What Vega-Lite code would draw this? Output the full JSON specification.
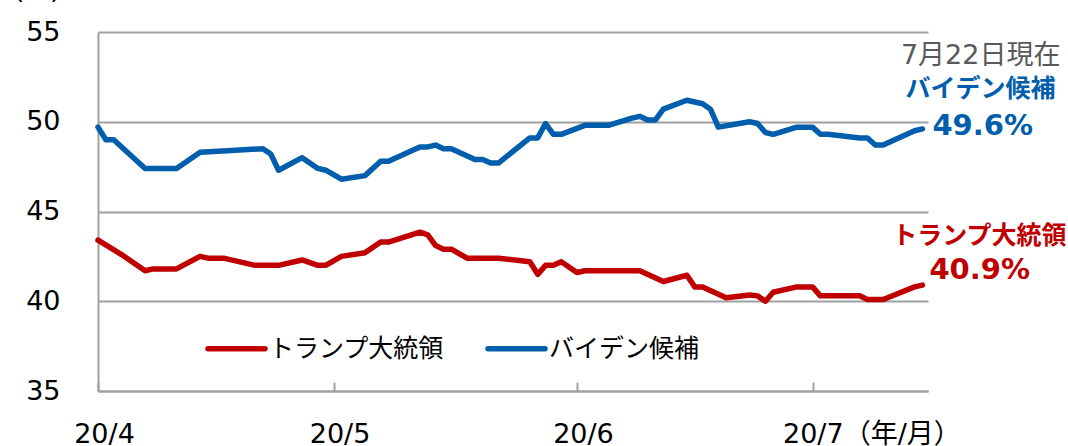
{
  "$schema": "https://vega.github.io/schema/vega-lite/v6.json",
  "width": 830,
  "height": 359,
  "autosize": {"type": "none"},
  "padding": {"left": 98, "top": 32, "right": 140, "bottom": 55},
  "background": "white",
  "config": {
    "font": "'DejaVu Sans', 'Noto Sans CJK JP'",
    "view": {"stroke": null}
  },
  "encoding": {
    "x": {
      "field": "date",
      "type": "temporal",
      "scale": {
        "type": "utc",
        "domain": [
          {"year": 2020, "month": 4, "date": 1, "utc": true},
          {"year": 2020, "month": 7, "date": 15, "hours": 17, "utc": true}
        ]
      },
      "axis": {
        "title": null,
        "values": [
          {"year": 2020, "month": 4, "date": 1, "utc": true},
          {"year": 2020, "month": 5, "date": 1, "utc": true},
          {"year": 2020, "month": 6, "date": 1, "utc": true},
          {"year": 2020, "month": 7, "date": 1, "utc": true}
        ],
        "labelExpr": "'20/' + (utcmonth(datum.value) + 1) + (utcmonth(datum.value) == 6 ? '（年/月）' : '')",
        "grid": false,
        "domainColor": "#A0A0A0",
        "domainWidth": 2,
        "tickColor": "#A0A0A0",
        "tickWidth": 2,
        "tickSize": -9,
        "labelPadding": 39,
        "labelBaseline": "top",
        "labelFlush": false,
        "labelBound": false,
        "labelOverlap": false,
        "labelAlign": {"condition": {"test": "utcmonth(datum.value) == 6", "value": "left"}, "value": "center"},
        "labelOffset": {"condition": {"test": "utcmonth(datum.value) == 6", "value": -30}, "value": 6},
        "labelFontSize": 27,
        "labelColor": "#000000"
      }
    },
    "y": {
      "field": "value",
      "type": "quantitative",
      "scale": {"domain": [35, 55], "nice": false, "zero": false},
      "axis": {
        "values": [35, 40, 45, 50, 55],
        "grid": true,
        "gridColor": "#A0A0A0",
        "gridWidth": 2,
        "domainColor": "#A0A0A0",
        "domainWidth": 2,
        "ticks": false,
        "labelPadding": 38,
        "labelFontSize": 27,
        "labelColor": "#000000",
        "title": "(%)",
        "titleAngle": 0,
        "titleAlign": "right",
        "titleX": -38,
        "titleY": -35,
        "titleBaseline": "alphabetic",
        "titleFontSize": 27,
        "titleFontWeight": "normal",
        "titleColor": "#000000"
      }
    }
  },
  "layer": [
    {
      "data": {
        "values": [
          {"date": "2020-04-01", "series": "バイデン候補", "value": 49.7},
          {"date": "2020-04-02", "series": "バイデン候補", "value": 49.0},
          {"date": "2020-04-03", "series": "バイデン候補", "value": 49.0},
          {"date": "2020-04-07", "series": "バイデン候補", "value": 47.4},
          {"date": "2020-04-11", "series": "バイデン候補", "value": 47.4},
          {"date": "2020-04-14", "series": "バイデン候補", "value": 48.3},
          {"date": "2020-04-18", "series": "バイデン候補", "value": 48.4},
          {"date": "2020-04-22", "series": "バイデン候補", "value": 48.5},
          {"date": "2020-04-23", "series": "バイデン候補", "value": 48.2},
          {"date": "2020-04-24", "series": "バイデン候補", "value": 47.3},
          {"date": "2020-04-27", "series": "バイデン候補", "value": 48.0},
          {"date": "2020-04-29", "series": "バイデン候補", "value": 47.4},
          {"date": "2020-04-30", "series": "バイデン候補", "value": 47.3},
          {"date": "2020-05-02", "series": "バイデン候補", "value": 46.8},
          {"date": "2020-05-05", "series": "バイデン候補", "value": 47.0},
          {"date": "2020-05-07", "series": "バイデン候補", "value": 47.8},
          {"date": "2020-05-08", "series": "バイデン候補", "value": 47.8},
          {"date": "2020-05-12", "series": "バイデン候補", "value": 48.6},
          {"date": "2020-05-13", "series": "バイデン候補", "value": 48.6},
          {"date": "2020-05-14", "series": "バイデン候補", "value": 48.7},
          {"date": "2020-05-15", "series": "バイデン候補", "value": 48.5},
          {"date": "2020-05-16", "series": "バイデン候補", "value": 48.5},
          {"date": "2020-05-19", "series": "バイデン候補", "value": 47.9},
          {"date": "2020-05-20", "series": "バイデン候補", "value": 47.9},
          {"date": "2020-05-21", "series": "バイデン候補", "value": 47.7},
          {"date": "2020-05-22", "series": "バイデン候補", "value": 47.7},
          {"date": "2020-05-26", "series": "バイデン候補", "value": 49.1},
          {"date": "2020-05-27", "series": "バイデン候補", "value": 49.1},
          {"date": "2020-05-28", "series": "バイデン候補", "value": 49.9},
          {"date": "2020-05-29", "series": "バイデン候補", "value": 49.3},
          {"date": "2020-05-30", "series": "バイデン候補", "value": 49.3},
          {"date": "2020-06-02", "series": "バイデン候補", "value": 49.8},
          {"date": "2020-06-05", "series": "バイデン候補", "value": 49.8},
          {"date": "2020-06-08", "series": "バイデン候補", "value": 50.2},
          {"date": "2020-06-09", "series": "バイデン候補", "value": 50.3},
          {"date": "2020-06-10", "series": "バイデン候補", "value": 50.1},
          {"date": "2020-06-11", "series": "バイデン候補", "value": 50.1},
          {"date": "2020-06-12", "series": "バイデン候補", "value": 50.7},
          {"date": "2020-06-15", "series": "バイデン候補", "value": 51.2},
          {"date": "2020-06-17", "series": "バイデン候補", "value": 51.0},
          {"date": "2020-06-18", "series": "バイデン候補", "value": 50.7},
          {"date": "2020-06-19", "series": "バイデン候補", "value": 49.7},
          {"date": "2020-06-23", "series": "バイデン候補", "value": 50.0},
          {"date": "2020-06-24", "series": "バイデン候補", "value": 49.9},
          {"date": "2020-06-25", "series": "バイデン候補", "value": 49.4},
          {"date": "2020-06-26", "series": "バイデン候補", "value": 49.3},
          {"date": "2020-06-29", "series": "バイデン候補", "value": 49.7},
          {"date": "2020-07-01", "series": "バイデン候補", "value": 49.7},
          {"date": "2020-07-02", "series": "バイデン候補", "value": 49.3},
          {"date": "2020-07-03", "series": "バイデン候補", "value": 49.3},
          {"date": "2020-07-07", "series": "バイデン候補", "value": 49.1},
          {"date": "2020-07-08", "series": "バイデン候補", "value": 49.1},
          {"date": "2020-07-09", "series": "バイデン候補", "value": 48.7},
          {"date": "2020-07-10", "series": "バイデン候補", "value": 48.7},
          {"date": "2020-07-14", "series": "バイデン候補", "value": 49.5},
          {"date": "2020-07-15", "series": "バイデン候補", "value": 49.6},
          {"date": "2020-04-01", "series": "トランプ大統領", "value": 43.4},
          {"date": "2020-04-04", "series": "トランプ大統領", "value": 42.6},
          {"date": "2020-04-07", "series": "トランプ大統領", "value": 41.7},
          {"date": "2020-04-08", "series": "トランプ大統領", "value": 41.8},
          {"date": "2020-04-11", "series": "トランプ大統領", "value": 41.8},
          {"date": "2020-04-14", "series": "トランプ大統領", "value": 42.5},
          {"date": "2020-04-15", "series": "トランプ大統領", "value": 42.4},
          {"date": "2020-04-17", "series": "トランプ大統領", "value": 42.4},
          {"date": "2020-04-21", "series": "トランプ大統領", "value": 42.0},
          {"date": "2020-04-24", "series": "トランプ大統領", "value": 42.0},
          {"date": "2020-04-27", "series": "トランプ大統領", "value": 42.3},
          {"date": "2020-04-29", "series": "トランプ大統領", "value": 42.0},
          {"date": "2020-04-30", "series": "トランプ大統領", "value": 42.0},
          {"date": "2020-05-02", "series": "トランプ大統領", "value": 42.5},
          {"date": "2020-05-05", "series": "トランプ大統領", "value": 42.7},
          {"date": "2020-05-07", "series": "トランプ大統領", "value": 43.3},
          {"date": "2020-05-08", "series": "トランプ大統領", "value": 43.3},
          {"date": "2020-05-12", "series": "トランプ大統領", "value": 43.85},
          {"date": "2020-05-13", "series": "トランプ大統領", "value": 43.7},
          {"date": "2020-05-14", "series": "トランプ大統領", "value": 43.1},
          {"date": "2020-05-15", "series": "トランプ大統領", "value": 42.9},
          {"date": "2020-05-16", "series": "トランプ大統領", "value": 42.9},
          {"date": "2020-05-18", "series": "トランプ大統領", "value": 42.4},
          {"date": "2020-05-22", "series": "トランプ大統領", "value": 42.4},
          {"date": "2020-05-26", "series": "トランプ大統領", "value": 42.2},
          {"date": "2020-05-27", "series": "トランプ大統領", "value": 41.5},
          {"date": "2020-05-28", "series": "トランプ大統領", "value": 42.0},
          {"date": "2020-05-29", "series": "トランプ大統領", "value": 42.0},
          {"date": "2020-05-30", "series": "トランプ大統領", "value": 42.2},
          {"date": "2020-06-01", "series": "トランプ大統領", "value": 41.6},
          {"date": "2020-06-02", "series": "トランプ大統領", "value": 41.7},
          {"date": "2020-06-09", "series": "トランプ大統領", "value": 41.7},
          {"date": "2020-06-12", "series": "トランプ大統領", "value": 41.1},
          {"date": "2020-06-15", "series": "トランプ大統領", "value": 41.45},
          {"date": "2020-06-16", "series": "トランプ大統領", "value": 40.8},
          {"date": "2020-06-17", "series": "トランプ大統領", "value": 40.8},
          {"date": "2020-06-20", "series": "トランプ大統領", "value": 40.2},
          {"date": "2020-06-23", "series": "トランプ大統領", "value": 40.35},
          {"date": "2020-06-24", "series": "トランプ大統領", "value": 40.3},
          {"date": "2020-06-25", "series": "トランプ大統領", "value": 40.0},
          {"date": "2020-06-26", "series": "トランプ大統領", "value": 40.5},
          {"date": "2020-06-29", "series": "トランプ大統領", "value": 40.8},
          {"date": "2020-07-01", "series": "トランプ大統領", "value": 40.8},
          {"date": "2020-07-02", "series": "トランプ大統領", "value": 40.3},
          {"date": "2020-07-07", "series": "トランプ大統領", "value": 40.3},
          {"date": "2020-07-08", "series": "トランプ大統領", "value": 40.1},
          {"date": "2020-07-10", "series": "トランプ大統領", "value": 40.1},
          {"date": "2020-07-14", "series": "トランプ大統領", "value": 40.8},
          {"date": "2020-07-15", "series": "トランプ大統領", "value": 40.9}
        ]
      },
      "mark": {"type": "line", "strokeWidth": 5.5, "strokeCap": "round", "strokeJoin": "round"},
      "encoding": {
        "color": {
          "field": "series",
          "type": "nominal",
          "scale": {"domain": ["トランプ大統領", "バイデン候補"], "range": ["#C00000", "#005EAC"]},
          "legend": {
            "title": null,
            "orient": "none",
            "legendX": 107,
            "legendY": 285,
            "direction": "horizontal",
            "symbolType": "stroke",
            "symbolSize": 3249,
            "symbolStrokeWidth": 5.5,
            "labelFontSize": 25,
            "labelColor": "#000000",
            "labelLimit": 400,
            "labelOffset": 1,
            "columnPadding": 32,
            "padding": 0,
            "rowPadding": 0,
            "offset": 0,
            "encode": {"symbols": {"update": {"strokeCap": {"value": "round"}}}}
          }
        }
      }
    },
    {
      "data": {"values": [{"date": "2020-07-15", "value": 53.66, "label": "7月22日現在"}]},
      "mark": {"type": "text", "align": "right", "baseline": "middle", "dx": 138, "fontSize": 27, "color": "#595959"},
      "encoding": {"text": {"field": "label"}}
    },
    {
      "data": {"values": [{"date": "2020-07-15", "value": 51.82, "label": "バイデン候補"}]},
      "mark": {"type": "text", "align": "right", "baseline": "middle", "dx": 133, "fontSize": 25, "fontWeight": "bold", "color": "#005EAC"},
      "encoding": {"text": {"field": "label"}}
    },
    {
      "data": {"values": [{"date": "2020-07-15", "value": 49.76, "label": "49.6%"}]},
      "mark": {"type": "text", "align": "left", "baseline": "middle", "dx": 10, "fontSize": 29, "fontWeight": "bold", "color": "#005EAC"},
      "encoding": {"text": {"field": "label"}}
    },
    {
      "data": {"values": [{"date": "2020-07-15", "value": 43.63, "label": "トランプ大統領"}]},
      "mark": {"type": "text", "align": "right", "baseline": "middle", "dx": 144, "fontSize": 25, "fontWeight": "bold", "color": "#C00000"},
      "encoding": {"text": {"field": "label"}}
    },
    {
      "data": {"values": [{"date": "2020-07-15", "value": 41.74, "label": "40.9%"}]},
      "mark": {"type": "text", "align": "left", "baseline": "middle", "dx": 7, "fontSize": 29, "fontWeight": "bold", "color": "#C00000"},
      "encoding": {"text": {"field": "label"}}
    }
  ]
}
